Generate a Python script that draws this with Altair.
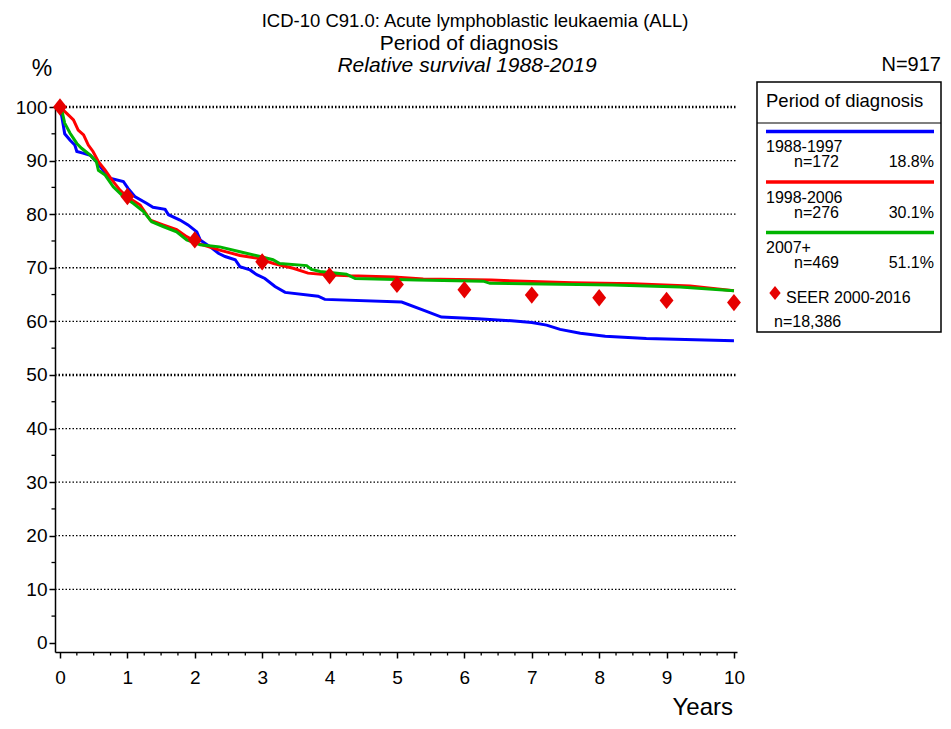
import altair as alt
import pandas as pd

FONT = "Liberation Sans, Arial, Helvetica, sans-serif"

# ---------------- data ----------------
blue_t = [0, 0.03, 0.07, 0.15, 0.22, 0.25, 0.34, 0.45, 0.54, 0.64, 0.74, 0.94, 1.01, 1.11, 1.29, 1.38,
          1.56, 1.61, 1.78, 1.90, 2.03, 2.08, 2.23, 2.35, 2.45, 2.60, 2.67, 2.82, 2.92, 3.04, 3.19,
          3.34, 3.83, 3.93, 5.07, 5.39, 5.66, 6.2, 6.7, 7.0, 7.22, 7.42, 7.72, 8.09, 8.7, 10]
blue_v = [100, 98.0, 95.0, 93.8, 92.9, 91.7, 91.4, 91.0, 89.8, 88.2, 86.7, 86.1, 84.8, 83.3, 82.0, 81.3,
          80.9, 79.9, 78.9, 78.0, 76.7, 75.2, 73.9, 72.7, 72.1, 71.5, 70.2, 69.6, 68.7, 68.0, 66.5,
          65.4, 64.7, 64.1, 63.6, 62.1, 60.8, 60.5, 60.1, 59.8, 59.3, 58.5, 57.8, 57.2, 56.8, 56.4]

red_t = [0, 0.1, 0.2, 0.27, 0.35, 0.42, 0.49, 0.57, 0.67, 0.77, 0.89, 0.99, 1.19, 1.34, 1.53, 1.73,
         1.88, 2.08, 2.37, 2.67, 2.92, 3.17, 3.46, 3.68, 3.96, 4.30, 4.95, 5.39, 6.4, 7.6, 8.5, 9.35, 10]
red_v = [100, 98.8, 97.6, 95.7, 94.8, 92.9, 91.7, 89.8, 88.2, 86.4, 84.5, 83.3, 81.7, 78.9, 78.0, 77.1,
         75.8, 74.4, 73.3, 72.3, 71.8, 70.8, 69.9, 69.0, 68.7, 68.5, 68.3, 67.9, 67.7, 67.2, 67.0, 66.6, 65.7]

green_t = [0, 0.02, 0.07, 0.15, 0.25, 0.32, 0.45, 0.54, 0.57, 0.67, 0.79, 0.94, 1.09, 1.24, 1.36, 1.53,
           1.73, 1.88, 2.08, 2.37, 2.67, 2.97, 3.16, 3.26, 3.66, 3.73, 3.86, 4.25, 4.38, 5.29, 6.28,
           6.38, 8.2, 9.2, 10]
green_v = [100, 99.8, 97.0, 95.1, 93.2, 92.3, 91.0, 89.8, 88.2, 87.3, 85.1, 83.3, 82.0, 80.5, 78.6, 77.7,
           76.7, 75.2, 74.3, 73.9, 73.0, 72.1, 71.5, 70.8, 70.4, 69.7, 69.3, 68.8, 68.0, 67.7, 67.5,
           67.1, 66.8, 66.4, 65.7]

seer_years = [0, 1, 2, 3, 4, 5, 6, 7, 8, 9, 10]
seer_v = [100, 83.3, 75.2, 71.1, 68.5, 66.9, 65.9, 64.9, 64.4, 63.9, 63.5]

series_names = ["1988-1997", "1998-2006", "2007+"]
series_n = ["n=172", "n=276", "n=469"]
series_pct = ["18.8%", "30.1%", "51.1%"]
series_colors = ["#0000ff", "#ff0000", "#00b400"]
seer_label = "SEER 2000-2016"
seer_n = "n=18,386"
seer_color = "#e60000"

title_lines = ["ICD-10 C91.0: Acute lymphoblastic leukaemia (ALL)", "Period of diagnosis",
               "Relative survival 1988-2019"]
legend_title = "Period of diagnosis"
total_n = "N=917"
y_unit = "%"
x_title = "Years"

grid_values = [10, 20, 30, 40, 50, 60, 70, 80, 90, 100]
y_ticks = [0, 10, 20, 30, 40, 50, 60, 70, 80, 90, 100]
x_ticks = [0, 1, 2, 3, 4, 5, 6, 7, 8, 9, 10]

# ---------------- layout ----------------
W, H = 682, 545
XDOM = [-0.074, 10.045]
YDOM = [-1.7, 100]

rows = []
for name, ts, vs in zip(series_names, [blue_t, red_t, green_t], [blue_v, red_v, green_v]):
    for t, v in zip(ts, vs):
        rows.append({"series": name, "t": t, "v": v})
lines_df = pd.DataFrame(rows)
seer_df = pd.DataFrame({"t": seer_years, "v": seer_v})

xs = alt.Scale(domain=XDOM, nice=False, zero=False)
ys = alt.Scale(domain=YDOM, nice=False, zero=False)
XAX = alt.Axis(values=x_ticks, title=None, tickSize=6, labelPadding=10, format="d", labelFlush=False,
               grid=False)
YAX = alt.Axis(values=y_ticks, title=None, tickSize=6, labelPadding=2, format="d", grid=False)

grid = alt.Chart(pd.DataFrame({"v": grid_values})).mark_rule(
    color="black", strokeDash=[1.5, 2]
).encode(
    y=alt.Y("v:Q", scale=ys, axis=YAX),
    x=alt.value(0), x2=alt.value(W),
    strokeWidth=alt.condition("datum.v % 50 == 0", alt.value(2.4), alt.value(1.3)),
)

minor_y = alt.Chart(pd.DataFrame({"v": [v + 5 for v in y_ticks[:-1]]})).mark_rule(
    color="black", strokeWidth=1.3
).encode(y=alt.Y("v:Q", scale=ys, axis=YAX), x=alt.value(-3.5), x2=alt.value(0))

minor_x = alt.Chart(pd.DataFrame({"t": [i / 4 for i in range(41) if i % 4 != 0]})).mark_rule(
    color="black", strokeWidth=1.3
).encode(x=alt.X("t:Q", scale=xs, axis=XAX), y=alt.value(H), y2=alt.value(H + 3.5))

lines = alt.Chart(lines_df).mark_line(strokeWidth=3, interpolate="linear").encode(
    x=alt.X("t:Q", scale=xs, axis=XAX),
    y=alt.Y("v:Q", scale=ys, axis=YAX),
    color=alt.Color("series:N", scale=alt.Scale(domain=series_names, range=series_colors), legend=None),
    order=alt.Order("t:Q"),
)

DIAMOND = "M0,-1L0.8,0L0,1L-0.8,0Z"
seer = alt.Chart(seer_df).mark_point(shape=DIAMOND, filled=True, color=seer_color, size=300,
                                     opacity=1).encode(
    x=alt.X("t:Q", scale=xs, axis=XAX), y=alt.Y("v:Q", scale=ys, axis=YAX)
)


def txt(label, x, y, size, align="left", style="normal", baseline="alphabetic"):
    return alt.Chart(pd.DataFrame({"s": [label]})).mark_text(
        font=FONT, fontSize=size, align=align, baseline=baseline, fontStyle=style, color="black"
    ).encode(x=alt.value(x), y=alt.value(y), text="s:N")


layers = [grid, minor_y, minor_x, lines, seer]

# titles
layers.append(txt(title_lines[0], 420, -80, 18.5, align="center"))
layers.append(txt(title_lines[1], 414, -57, 21, align="center"))
layers.append(txt(title_lines[2], 412, -35, 21, align="center", style="italic"))
layers.append(txt(y_unit, -13, -31, 23, align="center"))
layers.append(txt(total_n, 886, -36, 20, align="right"))
layers.append(txt(x_title, 678, 608, 24, align="right"))

# legend box
box = alt.Chart(pd.DataFrame({"a": [0]})).mark_rect(fill="white", stroke="black", strokeWidth=1.5).encode(
    x=alt.value(702), x2=alt.value(886), y=alt.value(-25), y2=alt.value(225)
)
sep = alt.Chart(pd.DataFrame({"a": [0]})).mark_rule(color="black", strokeWidth=1.2).encode(
    x=alt.value(702), x2=alt.value(886), y=alt.value(16)
)
layers += [box, sep]
layers.append(txt(legend_title, 711, 0, 18.5))
for i, (name, n, pct, col) in enumerate(zip(series_names, series_n, series_pct, series_colors)):
    y0 = 24.5 + 50.5 * i
    layers.append(alt.Chart(pd.DataFrame({"a": [0]})).mark_rule(color=col, strokeWidth=3.5).encode(
        x=alt.value(711), x2=alt.value(879), y=alt.value(y0)))
    layers.append(txt(name, 711, y0 + 20.5, 16))
    layers.append(txt(n, 739, y0 + 35.5, 16))
    layers.append(txt(pct, 879, y0 + 35.5, 16, align="right"))
layers.append(alt.Chart(pd.DataFrame({"a": [0]})).mark_point(
    shape=DIAMOND, filled=True, color=seer_color, size=200, opacity=1).encode(
    x=alt.value(720), y=alt.value(186)))
layers.append(txt(seer_label, 731, 196, 16))
layers.append(txt(seer_n, 719, 220, 16))

chart = alt.layer(*layers).properties(
    width=W, height=H,
    autosize=alt.AutoSizeParams(type="none"),
    padding={"left": 47, "top": 99, "right": 206, "bottom": 69},
).configure_view(stroke=None).configure_axis(
    domainColor="black", domainWidth=1.5, tickColor="black", tickWidth=1.5,
    labelFont=FONT, labelFontSize=19, labelColor="black", grid=False,
)

chart.save("out.html", embed_options={"renderer": "svg", "actions": False})
